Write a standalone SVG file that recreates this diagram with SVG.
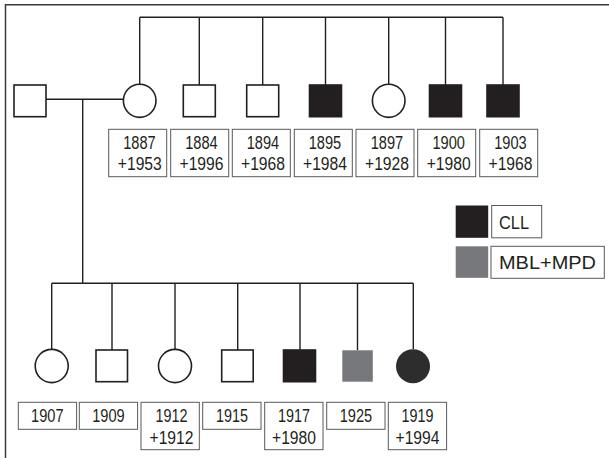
<svg xmlns="http://www.w3.org/2000/svg" width="609" height="458" viewBox="0 0 609 458">
<style>
.sh{fill:#fff;stroke:#231f20;stroke-width:1.6}
.aff{fill:#231f20;stroke:#231f20;stroke-width:1.6}
.mbl{fill:#77787b}
.ln{fill:none;stroke:#231f20;stroke-width:1.4}
.lb{fill:#fff;stroke:#58595b;stroke-width:1}
.t{font-family:"Liberation Sans",Arial,sans-serif;font-size:18px;fill:#231f20;text-anchor:middle}
.tl{font-family:"Liberation Sans",Arial,sans-serif;font-size:18px;fill:#231f20}
</style>
<rect width="609" height="458" fill="#fff"/>
<path d="M5.5,458 V4.7 H609" fill="none" stroke="#3a3a3a" stroke-width="1.5"/>
<g id="connectors" class="ln">
<path d="M139.7,17.3 H503 M139.7,17.3 V84.3 M199.3,17.3 V85 M262.7,17.3 V85 M325.5,17.3 V85 M388.7,17.3 V84.3 M445.5,17.3 V85 M503,17.3 V85"/>
<path d="M46,99.3 H123.4 M82.7,99.3 V283.3"/>
<path d="M51.7,283.3 H413.3 M51.7,283.3 V349.5 M112,283.3 V350 M175,283.3 V349.5 M237.7,283.3 V350 M300,283.3 V350 M357.5,283.3 V350.3 M413.3,283.3 V349.3"/>
</g>
<g id="father"><rect class="sh" x="14" y="85" width="32" height="31.7"/></g>
<g id="mother"><ellipse class="sh" cx="139.7" cy="100.8" rx="16.3" ry="16.6"/>
<rect class="lb" x="108.7" y="129.3" width="58" height="47.4"/><text class="t" x="139.5" y="149.3" textLength="32.5" lengthAdjust="spacingAndGlyphs">1887</text><text class="t" x="139.8" y="170" textLength="44" lengthAdjust="spacingAndGlyphs">+1953</text></g>
<g id="s1884"><rect class="sh" x="183.3" y="85" width="32" height="31.7"/>
<rect class="lb" x="170.7" y="129.3" width="58" height="47.4"/><text class="t" x="201.5" y="149.3" textLength="32.5" lengthAdjust="spacingAndGlyphs">1884</text><text class="t" x="201.5" y="170" textLength="44" lengthAdjust="spacingAndGlyphs">+1996</text></g>
<g id="s1894"><rect class="sh" x="246.7" y="85" width="32" height="31.7"/>
<rect class="lb" x="232.3" y="129.3" width="58" height="47.4"/><text class="t" x="263" y="149.3" textLength="32.5" lengthAdjust="spacingAndGlyphs">1894</text><text class="t" x="263" y="170" textLength="44" lengthAdjust="spacingAndGlyphs">+1968</text></g>
<g id="s1895"><rect class="aff" x="309.5" y="85" width="32" height="31.7"/>
<rect class="lb" x="294.3" y="129.3" width="58" height="47.4"/><text class="t" x="325" y="149.3" textLength="32.5" lengthAdjust="spacingAndGlyphs">1895</text><text class="t" x="325" y="170" textLength="44" lengthAdjust="spacingAndGlyphs">+1984</text></g>
<g id="s1897"><ellipse class="sh" cx="388.7" cy="100.8" rx="16.3" ry="16.6"/>
<rect class="lb" x="356" y="129.3" width="58" height="47.4"/><text class="t" x="387" y="149.3" textLength="32.5" lengthAdjust="spacingAndGlyphs">1897</text><text class="t" x="387" y="170" textLength="44" lengthAdjust="spacingAndGlyphs">+1928</text></g>
<g id="s1900"><rect class="aff" x="429.5" y="85" width="32" height="31.7"/>
<rect class="lb" x="417.7" y="129.3" width="58" height="47.4"/><text class="t" x="448.7" y="149.3" textLength="32.5" lengthAdjust="spacingAndGlyphs">1900</text><text class="t" x="448.7" y="170" textLength="44" lengthAdjust="spacingAndGlyphs">+1980</text></g>
<g id="s1903"><rect class="aff" x="487" y="85" width="32" height="31.7"/>
<rect class="lb" x="479.7" y="129.3" width="58" height="47.4"/><text class="t" x="510.5" y="149.3" textLength="32.5" lengthAdjust="spacingAndGlyphs">1903</text><text class="t" x="510.5" y="170" textLength="44" lengthAdjust="spacingAndGlyphs">+1968</text></g>
<g id="c1907"><ellipse class="sh" cx="51.7" cy="366" rx="16.5" ry="16.6"/>
<rect class="lb" x="18.3" y="402.3" width="58.3" height="27"/><text class="t" x="47.3" y="422.3" textLength="32.5" lengthAdjust="spacingAndGlyphs">1907</text></g>
<g id="c1909"><rect class="sh" x="96" y="350" width="31.5" height="31.7"/>
<rect class="lb" x="79.3" y="402.3" width="58.3" height="27"/><text class="t" x="108.5" y="422.3" textLength="32.5" lengthAdjust="spacingAndGlyphs">1909</text></g>
<g id="c1912"><ellipse class="sh" cx="175" cy="366" rx="16.5" ry="16.6"/>
<rect class="lb" x="141" y="402.3" width="58.3" height="47.4"/><text class="t" x="171.5" y="422.3" textLength="32" lengthAdjust="spacingAndGlyphs">1912</text><text class="t" x="171.5" y="443.5" textLength="44" lengthAdjust="spacingAndGlyphs">+1912</text></g>
<g id="c1915"><rect class="sh" x="221.7" y="350" width="31.5" height="31.7"/>
<rect class="lb" x="202.7" y="402.3" width="58.3" height="27"/><text class="t" x="232" y="422.3" textLength="32" lengthAdjust="spacingAndGlyphs">1915</text></g>
<g id="c1917"><rect class="aff" x="283.5" y="350" width="32" height="31.7"/>
<rect class="lb" x="264.7" y="402.3" width="58.3" height="47.4"/><text class="t" x="294" y="422.3" textLength="32" lengthAdjust="spacingAndGlyphs">1917</text><text class="t" x="294" y="443.5" textLength="44" lengthAdjust="spacingAndGlyphs">+1980</text></g>
<g id="c1925"><rect class="mbl" x="342.3" y="350.3" width="30.5" height="31.4"/>
<rect class="lb" x="326.7" y="402.3" width="58.3" height="27"/><text class="t" x="356" y="422.3" textLength="32.5" lengthAdjust="spacingAndGlyphs">1925</text></g>
<g id="c1919"><ellipse cx="413" cy="366.3" rx="17" ry="17" fill="#2e2d2d"/>
<rect class="lb" x="388.3" y="402.3" width="58.3" height="47.4"/><text class="t" x="417.5" y="422.3" textLength="32" lengthAdjust="spacingAndGlyphs">1919</text><text class="t" x="417.5" y="443.5" textLength="44" lengthAdjust="spacingAndGlyphs">+1994</text></g>
<g id="legend-cll"><rect x="455.7" y="205.5" width="32.5" height="32.3" fill="#231f20"/>
<rect class="lb" x="491.7" y="205.5" width="50" height="32.3"/><text class="tl" x="499" y="228.5" textLength="30" lengthAdjust="spacingAndGlyphs">CLL</text></g>
<g id="legend-mbl"><rect class="mbl" x="455.7" y="246.3" width="32.5" height="31.5"/>
<rect class="lb" x="491" y="246.3" width="113.3" height="32"/><text class="tl" x="499" y="268.5" textLength="97" lengthAdjust="spacingAndGlyphs">MBL+MPD</text></g>
</svg>
